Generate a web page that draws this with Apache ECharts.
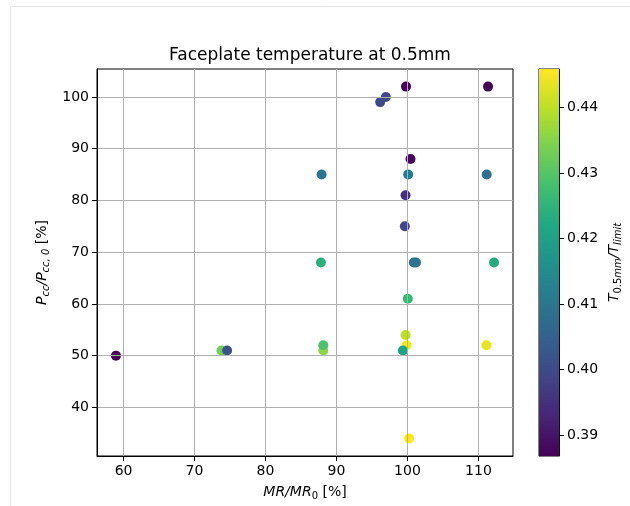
<!DOCTYPE html>
<html>
<head>
<meta charset="utf-8">
<script src="https://cdn.jsdelivr.net/npm/echarts@6/dist/echarts.min.js"></script>
<style>
	html, body { margin: 0; padding: 0; background: #fff; }
	#main { width: 630px; height: 506px; }
</style>
</head>
<body>
<div id="main"></div>
<script>
// MR/MR0 [%], Pcc/Pcc,0 [%], T0.5mm/Tlimit  (order = draw order)
var mrList = [99.8, 111.35, 96.96, 96.16, 100.43, 87.9, 100.1, 111.17, 99.73, 99.63,
	87.81, 100.9, 101.2, 112.2, 100.05, 99.87, 99.73, 99.35, 111.12, 88.14,
	88.14, 100.24, 58.93, 73.79, 74.59]
var pccList = [102, 102, 100, 99, 88, 85, 85, 85, 81, 75,
	68, 68, 68, 68, 61, 52, 54, 51, 52, 51,
	52, 34, 50, 51, 51]
var tempList = [0.387, 0.387, 0.400, 0.400, 0.388, 0.410, 0.411, 0.408, 0.395, 0.399,
	0.424, 0.409, 0.410, 0.423, 0.426, 0.445, 0.440, 0.421, 0.444, 0.436,
	0.429, 0.4459, 0.3868, 0.433, 0.402]

var xTicks = [60, 70, 80, 90, 100, 110]
var yTicks = [40, 50, 60, 70, 80, 90, 100]
var cbTicks = [0.39, 0.40, 0.41, 0.42, 0.43, 0.44]

var xMin = 56.26, xMax = 114.87
var yMin = 30.6, yMax = 105.4
var cMin = 0.3868, cMax = 0.4459

// viridis
var viridis = ['#440154', '#482475', '#414487', '#355f8d', '#2a788e', '#21918c',
	'#22a884', '#44bf70', '#7ad151', '#bddf26', '#fde725']

var points = mrList.map(function(v, i) {
	return [v, pccList[i], tempList[i]]
})

var font = 'DejaVu Sans'
var fs = 14
var chart = echarts.init(document.getElementById('main'))

var option = {
	animation: false,
	textStyle: { fontFamily: font },
	title: {
		text: 'Faceplate temperature at 0.5mm',
		left: 305,
		textAlign: 'center',
		top: 42,
		textStyle: { fontFamily: font, fontSize: 17, fontWeight: 'normal', color: '#000' }
	},
	graphic: [{
		type: 'rect',
		silent: true,
		shape: { x: 10.5, y: 6.5, width: 700, height: 600 },
		style: { fill: 'none', stroke: '#e4e4e4', lineWidth: 1 }
	}],
	grid: [{
		left: 97, right: 117, top: 69, bottom: 49,
		show: true, borderColor: '#000', borderWidth: 1, backgroundColor: 'transparent'
	}, {
		left: 539, width: 20, top: 69, bottom: 50,
		show: true, borderColor: '#000', borderWidth: 1
	}],
	visualMap: {
		show: false,
		type: 'continuous',
		seriesIndex: 0,
		dimension: 2,
		min: cMin,
		max: cMax,
		inRange: { color: viridis }
	},
	xAxis: [{
		type: 'value',
		gridIndex: 0,
		min: xMin,
		max: xMax,
		name: '{i|MR/MR}{s|0}{n| [%]}',
		nameLocation: 'middle',
		nameGap: 27,
		nameTextStyle: {
			color: '#000',
			rich: {
				i: { fontFamily: font, fontSize: fs, fontStyle: 'italic', lineHeight: 18, color: '#000' },
				s: { fontFamily: font, fontSize: 10, lineHeight: 10, verticalAlign: 'bottom', color: '#000' },
				n: { fontFamily: font, fontSize: fs, lineHeight: 18, color: '#000' }
			}
		},
		axisLine: { show: true, onZero: false, lineStyle: { color: '#000', width: 1 } },
		axisTick: { show: true, length: 5, customValues: xTicks, lineStyle: { color: '#000' } },
		axisLabel: { customValues: xTicks, color: '#000', fontSize: fs, fontFamily: font, margin: 8 },
		splitLine: { show: true, lineStyle: { color: '#b0b0b0', width: 1 } }
	}, {
		type: 'category',
		gridIndex: 1,
		data: ['cb'],
		show: false
	}],
	yAxis: [{
		type: 'value',
		gridIndex: 0,
		min: yMin,
		max: yMax,
		name: '{i|P}{s|cc}{i|/P}{s|cc, 0}{n| [%]}',
		nameLocation: 'middle',
		nameRotate: 90,
		nameGap: 41,
		nameTextStyle: {
			color: '#000',
			rich: {
				i: { fontFamily: font, fontSize: fs, fontStyle: 'italic', lineHeight: 18, color: '#000' },
				s: { fontFamily: font, fontSize: 10, fontStyle: 'italic', lineHeight: 10, verticalAlign: 'bottom', color: '#000' },
				n: { fontFamily: font, fontSize: fs, lineHeight: 18, color: '#000' }
			}
		},
		axisLine: { show: true, onZero: false, lineStyle: { color: '#000', width: 1 } },
		axisTick: { show: true, length: 5, customValues: yTicks, lineStyle: { color: '#000' } },
		axisLabel: { customValues: yTicks, color: '#000', fontSize: fs, fontFamily: font, margin: 8 },
		splitLine: { show: true, lineStyle: { color: '#b0b0b0', width: 1 } }
	}, {
		type: 'value',
		gridIndex: 1,
		position: 'right',
		min: cMin,
		max: cMax,
		name: '{i|T}{s|0.5}{si|mm}{i|/T}{si|limit}',
		nameLocation: 'middle',
		nameRotate: 90,
		nameGap: 46,
		nameTextStyle: {
			color: '#000',
			rich: {
				i: { fontFamily: font, fontSize: fs, fontStyle: 'italic', lineHeight: 18, color: '#000' },
				s: { fontFamily: font, fontSize: 10, lineHeight: 10, verticalAlign: 'bottom', color: '#000' },
				si: { fontFamily: font, fontSize: 10, fontStyle: 'italic', lineHeight: 10, verticalAlign: 'bottom', color: '#000' }
			}
		},
		axisLine: { show: true, onZero: false, lineStyle: { color: '#000', width: 1 } },
		axisTick: { show: true, length: 5, customValues: cbTicks, lineStyle: { color: '#000' } },
		axisLabel: {
			customValues: cbTicks, color: '#000', fontSize: fs, fontFamily: font, margin: 8,
			formatter: function(v) { return v.toFixed(2) }
		},
		splitLine: { show: false }
	}],
	series: [{
		type: 'scatter',
		xAxisIndex: 0,
		yAxisIndex: 0,
		z: -1,
		symbolSize: 10,
		itemStyle: { opacity: 1 },
		data: points
	}, {
		type: 'bar',
		xAxisIndex: 1,
		yAxisIndex: 1,
		barWidth: '100%',
		silent: true,
		itemStyle: {
			color: new echarts.graphic.LinearGradient(0, 1, 0, 0, viridis.map(function(c, i) {
				return { offset: i / (viridis.length - 1), color: c }
			}))
		},
		data: [cMax]
	}]
}

chart.setOption(option)
</script>
</body>
</html>
